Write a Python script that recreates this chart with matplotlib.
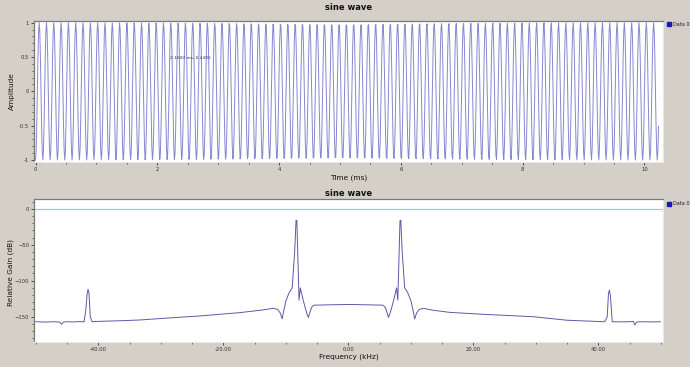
import numpy as np
import matplotlib
matplotlib.use("Agg")
import matplotlib.pyplot as plt
from matplotlib.ticker import MultipleLocator, FixedLocator

# ---------------- data ----------------
# time-domain signal: sine wave sampled at 100 kHz, 1024 samples
sample_rate_khz = 100.0
n_samples = 1024
tone_khz = 8.325
amplitude = 1.0
time_ms = np.arange(n_samples) / sample_rate_khz
signal = -amplitude * np.cos(2 * np.pi * tone_khz * time_ms)

# frequency-domain trace (kHz, dB)
freq_khz = [-50.0, -48.5, -47.0, -46.2, -45.9, -45.6, -45.0, -44.0, -43.0, -42.3,
            -42.0, -41.8, -41.65, -41.5, -41.3, -41.0, -40.0, -38.0, -36.0, -33.4,
            -29.1, -23.8, -17.4, -14.0, -12.0, -11.3, -10.9, -10.6, -10.45, -10.0,
            -9.5, -9.0, -8.6, -8.38, -8.25, -8.05, -7.9, -7.7, -7.3, -6.9,
            -6.6, -6.4, -6.2, -5.9, -5.5, -3.0, 0.0, 3.0, 5.5, 5.9,
            6.2, 6.4, 6.6, 6.9, 7.3, 7.7, 7.9, 8.05, 8.25, 8.38,
            8.6, 9.0, 9.5, 10.0, 10.45, 10.6, 10.9, 11.3, 12.0, 13.5,
            16.2, 21.5, 29.5, 34.9, 38.0, 41.0, 41.4, 41.6, 41.75, 41.9,
            42.2, 43.0, 45.0, 45.6, 45.8, 46.1, 47.0, 48.5, 49.9]
gain_db = [-157.0, -157.5, -157.0, -157.5, -160.5, -157.5, -157.0, -157.3, -156.8, -157.2,
           -140.0, -118.0, -112.0, -118.0, -150.0, -157.0, -156.5, -156.0, -155.5, -154.6,
           -152.0, -149.0, -144.4, -141.0, -138.4, -140.0, -145.0, -153.0, -146.0, -128.0,
           -117.0, -110.0, -60.0, -16.0, -16.5, -80.0, -127.0, -110.0, -125.0, -138.0,
           -147.0, -151.0, -145.0, -137.0, -134.0, -133.5, -133.0, -133.5, -134.0, -137.0,
           -145.0, -151.0, -147.0, -138.0, -125.0, -110.0, -127.0, -80.0, -16.5, -16.0,
           -60.0, -110.0, -117.0, -128.0, -146.0, -153.0, -145.0, -140.0, -138.4, -141.0,
           -144.0, -146.7, -150.0, -154.9, -156.0, -157.0, -150.0, -118.0, -113.0, -120.0,
           -157.0, -157.2, -157.0, -156.5, -161.5, -157.5, -157.0, -157.3, -157.0]

reference_db = 0.0

time_ticks = [0, 2, 4, 6, 8, 10]
amp_ticks = [-1, -0.5, 0, 0.5, 1]
amp_labels = ["-1", "-0.5", "0", "0.5", "1"]
freq_ticks = [-40, -20, 0, 20, 40]
freq_labels = ["-40.00", "-20.00", "0.00", "20.00", "40.00"]
gain_ticks = [0, -50, -100, -150]

# ---------------- figure ----------------
W, H = 690, 367
fig = plt.figure(figsize=(W / 100, H / 100), dpi=100)
bg = "#d4d0c8"
fig.patch.set_facecolor(bg)
plt.rcParams["font.family"] = ["DejaVu Sans"]

def px_axes(x0, y0, x1, y1):
    return fig.add_axes([x0 / W, 1 - y1 / H, (x1 - x0) / W, (y1 - y0) / H])

def style(ax):
    ax.set_facecolor("white")
    for s in ["top", "left"]:
        ax.spines[s].set_color("#7a7a7a")
        ax.spines[s].set_linewidth(0.9)
    for s in ["right", "bottom"]:
        ax.spines[s].set_color("#e8e8e8")
        ax.spines[s].set_linewidth(0.8)
    ax.tick_params(axis="both", which="both", direction="out", colors="#333333",
                   labelsize=3.8, length=2.5, width=0.6, pad=1.0)
    ax.tick_params(axis="both", which="minor", length=1.4, width=0.5)
    ax.tick_params(top=False, right=False, which="both")

# ---- top plot ----
ax1 = px_axes(33.5, 20.7, 663.3, 162.0)
style(ax1)
ax1.plot(time_ms, signal, color="#7272c8", lw=0.7, alpha=0.85)
ax1.set_xlim(-0.033, 10.309)
ax1.set_ylim(-1.029, 1.029)
ax1.xaxis.set_major_locator(FixedLocator(time_ticks))
ax1.xaxis.set_minor_locator(MultipleLocator(0.5))
ax1.yaxis.set_major_locator(FixedLocator(amp_ticks))
ax1.set_yticklabels(amp_labels)
ax1.yaxis.set_minor_locator(MultipleLocator(0.1))
ax1.text(2.215, 0.49, "2.1600 ms, 0.4492", fontsize=3.2, color="#333366",
         ha="left", va="center")
fig.text(348.4 / W, 1 - 8 / H, "sine wave", ha="center", va="center",
         fontsize=6, fontweight="bold", color="#111111")
fig.text(348.4 / W, 1 - 177.5 / H, "Time (ms)", ha="center", va="center",
         fontsize=5.3, color="#111111")
fig.text(12.0 / W, 1 - 91.5 / H, "Amplitude", ha="center", va="center",
         rotation=90, fontsize=5.3, color="#111111")
fig.patches.append(plt.Rectangle((666.5 / W, 1 - 26 / H), 4 / W, 4 / H,
                                 transform=fig.transFigure, color="#1a1ab0"))
fig.text(673 / W, 1 - 24 / H, "Data 0", ha="left", va="center", fontsize=3.6,
         color="#222222")

# ---- bottom plot ----
ax2 = px_axes(34.0, 199.3, 663.3, 342.3)
style(ax2)
ax2.axhline(reference_db, color="#86d4e0", lw=0.9)
ax2.plot(freq_khz, gain_db, color="#5a5aa6", lw=0.7)
ax2.set_xlim(-50.3, 50.37)
ax2.set_ylim(-185.6, 13.1)
ax2.xaxis.set_major_locator(FixedLocator(freq_ticks))
ax2.set_xticklabels(freq_labels)
ax2.xaxis.set_minor_locator(MultipleLocator(5))
ax2.yaxis.set_major_locator(FixedLocator(gain_ticks))
ax2.yaxis.set_minor_locator(MultipleLocator(10))
fig.text(348.6 / W, 1 - 194 / H, "sine wave", ha="center", va="center",
         fontsize=6, fontweight="bold", color="#111111")
fig.text(348.6 / W, 1 - 356.5 / H, "Frequency (kHz)", ha="center", va="center",
         fontsize=5.3, color="#111111")
fig.text(11.0 / W, 1 - 272 / H, "Relative Gain (dB)", ha="center", va="center",
         rotation=90, fontsize=5.3, color="#111111")
fig.patches.append(plt.Rectangle((666.5 / W, 1 - 205.5 / H), 4 / W, 4 / H,
                                 transform=fig.transFigure, color="#1a1ab0"))
fig.text(673 / W, 1 - 203.5 / H, "Data 0", ha="left", va="center", fontsize=3.6,
         color="#222222")

fig.savefig("out.png", dpi=100, facecolor=bg)
